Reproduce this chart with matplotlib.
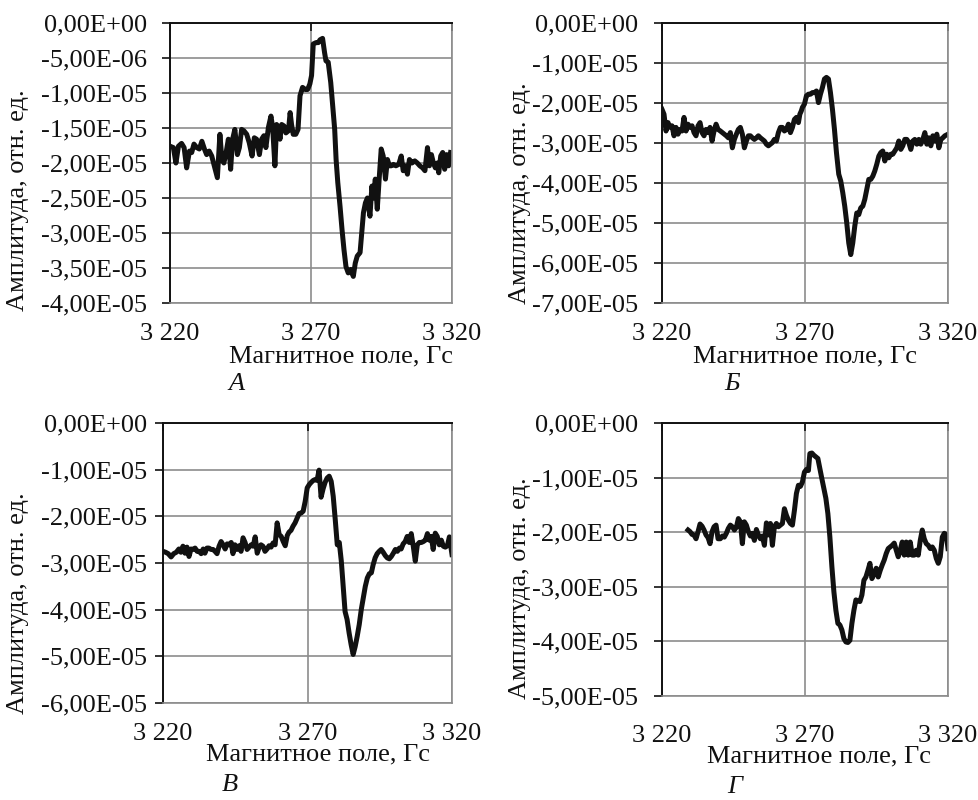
import numpy as np
import matplotlib
matplotlib.use("Agg")
import matplotlib.pyplot as plt
from matplotlib.ticker import FuncFormatter, MultipleLocator

plt.rcParams['font.family'] = ['Liberation Serif', 'DejaVu Serif']

field_a = [3220.0, 3221.2, 3222.1, 3223.0, 3224.1, 3225.0, 3225.9, 3226.9, 3227.7, 3228.5,
           3229.5, 3230.4, 3231.3, 3232.2, 3233.0, 3233.9, 3234.8, 3235.7, 3236.8, 3237.7,
           3238.4, 3239.1, 3239.9, 3240.7, 3241.5, 3242.2, 3243.0, 3243.9, 3244.6, 3245.4,
           3246.2, 3247.2, 3248.1, 3249.1, 3249.9, 3250.7, 3251.7, 3252.5, 3253.3, 3254.0,
           3254.9, 3255.8, 3256.4, 3257.2, 3257.8, 3258.4, 3259.0, 3259.6, 3260.4, 3261.1,
           3262.0, 3262.6, 3263.1, 3263.7, 3264.6, 3265.4, 3266.1, 3267.0, 3268.0, 3268.8,
           3269.6, 3270.2, 3270.8, 3271.8, 3272.6, 3273.2, 3274.1, 3274.8, 3275.3, 3276.1,
           3277.0, 3277.7, 3278.4, 3278.9, 3279.5, 3280.3, 3281.0, 3281.7, 3282.4, 3283.2,
           3284.1, 3285.0, 3285.7, 3286.4, 3287.4, 3288.0, 3288.6, 3289.3, 3290.0, 3290.9,
           3291.6, 3292.1, 3292.8, 3293.5, 3294.2, 3294.9, 3295.6, 3296.4, 3297.1, 3297.8,
           3298.5, 3299.2, 3300.1, 3301.1, 3302.0, 3302.7, 3303.4, 3304.2, 3304.9, 3305.8,
           3306.8, 3307.7, 3308.6, 3309.6, 3310.4, 3311.3, 3312.0, 3312.7, 3313.4, 3314.1,
           3314.8, 3315.3, 3316.0, 3316.7, 3317.4, 3318.1, 3318.8, 3319.5]
amp_a = [-1.76, -1.78, -2.00, -1.76, -1.72, -1.78, -2.07, -1.83, -1.85, -1.73,
         -1.78, -1.80, -1.69, -1.80, -1.88, -1.83, -1.90, -2.04, -2.21, -1.59,
         -1.95, -2.00, -1.85, -1.66, -2.09, -1.66, -1.52, -1.88, -1.78, -1.52,
         -1.54, -1.59, -1.71, -1.90, -1.64, -1.66, -1.88, -1.66, -1.61, -1.78,
         -1.49, -1.33, -1.49, -2.04, -1.45, -1.49, -1.66, -1.45, -1.47, -1.57,
         -1.54, -1.28, -1.45, -1.59, -1.59, -1.52, -1.04, -0.92, -0.95, -0.95,
         -0.87, -0.75, -0.30, -0.28, -0.28, -0.24, -0.22, -0.42, -0.54, -0.56,
         -0.85, -1.18, -1.52, -1.95, -2.28, -2.62, -2.95, -3.24, -3.48, -3.57,
         -3.52, -3.62, -3.43, -3.33, -3.28, -3.00, -2.71, -2.57, -2.50, -2.76,
         -2.33, -2.50, -2.23, -2.66, -2.21, -1.80, -1.90, -2.23, -1.95, -2.04,
         -2.04, -2.02, -2.04, -2.02, -1.90, -2.11, -2.04, -2.16, -1.95, -2.00,
         -1.97, -2.00, -2.04, -2.07, -2.11, -1.78, -2.04, -1.88, -2.00, -2.07,
         -2.00, -2.14, -1.90, -1.85, -2.09, -1.88, -2.04, -1.85]

field_b = [3220.0, 3220.7, 3221.4, 3222.1, 3222.8, 3223.5, 3224.2, 3224.9, 3225.6, 3226.3,
           3227.0, 3227.7, 3228.4, 3229.1, 3229.8, 3230.5, 3231.2, 3231.9, 3232.6, 3233.3,
           3234.0, 3234.7, 3235.4, 3236.1, 3236.8, 3237.5, 3238.2, 3238.9, 3239.6, 3240.4,
           3241.1, 3241.8, 3242.5, 3243.2, 3243.9, 3244.6, 3245.3, 3246.0, 3246.7, 3247.4,
           3248.1, 3248.8, 3249.5, 3250.2, 3250.9, 3251.6, 3252.3, 3253.0, 3253.7, 3254.4,
           3255.1, 3255.8, 3256.5, 3257.2, 3257.9, 3258.6, 3259.3, 3260.0, 3260.7, 3261.4,
           3262.1, 3262.8, 3263.5, 3264.2, 3264.9, 3265.6, 3266.3, 3267.0, 3267.7, 3268.2,
           3268.7, 3269.1, 3269.8, 3270.5, 3271.2, 3271.9, 3272.6, 3273.3, 3274.0, 3274.7,
           3275.4, 3276.1, 3276.8, 3277.5, 3278.2, 3278.9, 3279.6, 3280.3, 3281.0, 3281.8,
           3282.5, 3283.2, 3283.9, 3284.6, 3285.3, 3286.0, 3286.7, 3287.4, 3288.1, 3288.8,
           3289.5, 3290.2, 3290.9, 3291.6, 3292.3, 3293.0, 3293.7, 3294.4, 3295.1, 3295.8,
           3296.5, 3297.2, 3297.9, 3298.6, 3299.3, 3300.0, 3300.7, 3301.4, 3302.1, 3302.8,
           3303.5, 3304.2, 3304.9, 3305.6, 3306.3, 3307.0, 3307.7, 3308.4, 3309.1, 3309.8,
           3310.5, 3311.2, 3311.9, 3312.6, 3313.3, 3314.0, 3314.7, 3315.4, 3316.1, 3316.8,
           3317.5, 3318.2, 3318.9, 3320.0]
amp_b = [-2.16, -2.28, -2.70, -2.49, -2.61, -2.57, -2.82, -2.61, -2.78, -2.66,
         -2.70, -2.36, -2.70, -2.53, -2.61, -2.57, -2.74, -2.82, -2.57, -2.49,
         -2.74, -2.82, -2.66, -2.74, -2.61, -2.95, -2.70, -2.53, -2.66, -2.70,
         -2.74, -2.78, -2.82, -2.87, -2.74, -3.12, -2.91, -2.78, -2.66, -2.61,
         -2.78, -3.12, -2.95, -2.82, -2.82, -2.87, -2.91, -2.87, -2.82, -2.87,
         -2.91, -2.95, -3.03, -3.07, -3.03, -2.99, -2.91, -2.95, -2.74, -2.61,
         -2.61, -2.70, -2.66, -2.53, -2.74, -2.61, -2.41, -2.36, -2.49, -2.28,
         -2.20, -2.11, -2.03, -1.82, -1.78, -1.78, -1.74, -1.74, -1.70, -1.99,
         -1.78, -1.61, -1.40, -1.36, -1.40, -1.74, -2.16, -2.66, -3.24, -3.78,
         -3.95, -4.24, -4.58, -5.00, -5.50, -5.79, -5.50, -5.08, -4.75, -4.79,
         -4.62, -4.58, -4.41, -4.16, -3.91, -3.91, -3.83, -3.70, -3.53, -3.33,
         -3.24, -3.20, -3.45, -3.28, -3.37, -3.28, -3.28, -3.20, -3.12, -2.95,
         -3.16, -3.07, -2.91, -2.91, -2.99, -3.16, -2.95, -2.91, -3.03, -2.91,
         -3.03, -2.91, -2.74, -3.03, -2.87, -3.07, -2.82, -2.95, -2.78, -3.12,
         -2.91, -2.87, -2.82, -2.78]

field_c = [3220.0, 3220.9, 3221.8, 3222.8, 3223.7, 3224.6, 3225.5, 3226.2, 3226.9, 3227.6,
           3228.3, 3229.0, 3229.7, 3230.4, 3231.1, 3231.8, 3232.5, 3233.2, 3233.9, 3234.5,
           3235.2, 3235.9, 3236.6, 3237.3, 3238.0, 3238.7, 3239.4, 3240.1, 3240.8, 3241.5,
           3242.2, 3242.9, 3243.6, 3244.2, 3244.9, 3245.6, 3246.3, 3247.0, 3247.7, 3248.4,
           3249.1, 3249.8, 3250.5, 3251.2, 3251.9, 3252.6, 3253.3, 3253.9, 3254.6, 3255.3,
           3256.0, 3256.7, 3257.4, 3258.1, 3258.8, 3259.5, 3260.2, 3260.9, 3261.6, 3262.3,
           3263.0, 3263.6, 3264.3, 3265.0, 3265.7, 3266.4, 3267.1, 3267.8, 3268.5, 3269.2,
           3269.9, 3270.6, 3271.3, 3272.0, 3272.7, 3273.3, 3274.0, 3274.7, 3275.4, 3276.1,
           3276.8, 3277.5, 3278.2, 3278.9, 3279.6, 3280.3, 3281.0, 3281.7, 3282.4, 3283.0,
           3283.7, 3284.4, 3285.1, 3285.8, 3286.5, 3287.2, 3287.9, 3288.6, 3289.3, 3290.0,
           3290.7, 3291.4, 3292.1, 3292.7, 3293.4, 3294.1, 3294.8, 3295.5, 3296.2, 3296.9,
           3297.6, 3298.3, 3299.0, 3299.7, 3300.4, 3301.1, 3301.8, 3302.4, 3303.1, 3303.8,
           3304.5, 3305.2, 3305.9, 3306.6, 3307.3, 3308.0, 3308.7, 3309.4, 3310.1, 3310.8,
           3311.5, 3312.1, 3312.8, 3313.5, 3314.2, 3314.9, 3315.6, 3316.3, 3317.0, 3317.7,
           3318.4, 3319.1, 3320.0]
amp_c = [-2.75, -2.77, -2.80, -2.87, -2.80, -2.77, -2.70, -2.77, -2.64, -2.79,
         -2.66, -2.86, -2.70, -2.71, -2.68, -2.75, -2.75, -2.80, -2.70, -2.79,
         -2.68, -2.68, -2.71, -2.71, -2.75, -2.80, -2.64, -2.54, -2.61, -2.70,
         -2.59, -2.61, -2.56, -2.80, -2.61, -2.71, -2.63, -2.75, -2.46, -2.56,
         -2.71, -2.66, -2.61, -2.64, -2.44, -2.79, -2.66, -2.61, -2.64, -2.75,
         -2.70, -2.63, -2.66, -2.57, -2.61, -2.14, -2.39, -2.43, -2.54, -2.63,
         -2.41, -2.34, -2.30, -2.21, -2.14, -2.04, -1.94, -1.93, -1.89, -1.68,
         -1.39, -1.32, -1.27, -1.23, -1.21, -1.23, -1.01, -1.59, -1.41, -1.27,
         -1.18, -1.14, -1.25, -1.57, -2.07, -2.61, -2.56, -2.96, -3.54, -4.04,
         -4.21, -4.50, -4.75, -4.96, -4.79, -4.57, -4.32, -4.00, -3.75, -3.50,
         -3.32, -3.23, -3.21, -3.04, -2.89, -2.80, -2.75, -2.71, -2.77, -2.84,
         -2.89, -2.91, -2.86, -2.79, -2.71, -2.75, -2.68, -2.70, -2.59, -2.54,
         -2.43, -2.56, -2.37, -2.64, -2.96, -2.61, -2.56, -2.56, -2.54, -2.51,
         -2.37, -2.51, -2.43, -2.71, -2.36, -2.43, -2.61, -2.51, -2.64, -2.66,
         -2.63, -2.44, -2.82]

field_d = [3229.1, 3229.8, 3230.5, 3231.2, 3231.9, 3232.6, 3233.3, 3234.0, 3234.7, 3235.4,
           3236.1, 3236.8, 3237.5, 3238.2, 3238.9, 3239.6, 3240.4, 3241.1, 3241.8, 3242.5,
           3243.2, 3243.9, 3244.6, 3245.3, 3246.0, 3246.7, 3247.4, 3248.1, 3248.8, 3249.5,
           3250.2, 3250.9, 3251.6, 3252.3, 3253.0, 3253.7, 3254.4, 3255.1, 3255.8, 3256.5,
           3257.2, 3257.9, 3258.6, 3259.3, 3260.0, 3260.7, 3261.4, 3262.1, 3262.8, 3263.5,
           3264.2, 3264.9, 3265.6, 3266.3, 3267.0, 3267.7, 3268.4, 3269.1, 3269.8, 3270.5,
           3271.2, 3271.7, 3272.4, 3273.1, 3273.8, 3274.5, 3275.2, 3275.9, 3276.6, 3277.3,
           3278.0, 3278.7, 3279.4, 3280.1, 3280.8, 3281.5, 3282.2, 3282.9, 3283.6, 3284.3,
           3285.0, 3285.7, 3286.4, 3287.1, 3287.8, 3288.5, 3289.2, 3289.9, 3290.6, 3291.3,
           3292.0, 3292.7, 3293.4, 3294.2, 3294.9, 3295.6, 3296.3, 3297.0, 3297.7, 3298.4,
           3299.1, 3299.8, 3300.5, 3301.2, 3301.9, 3302.6, 3303.3, 3304.0, 3304.7, 3305.4,
           3306.1, 3306.8, 3307.5, 3308.2, 3308.9, 3309.6, 3310.3, 3311.0, 3311.7, 3312.4,
           3313.1, 3313.8, 3314.5, 3315.2, 3315.9, 3316.6, 3317.3, 3318.0, 3318.7, 3319.4,
           3320.0]
amp_d = [-1.96, -1.99, -2.04, -2.05, -2.12, -1.99, -1.85, -1.89, -1.96, -2.05,
         -2.10, -2.21, -1.99, -1.90, -1.87, -2.12, -2.12, -2.07, -2.09, -2.02,
         -1.93, -1.87, -1.90, -1.96, -1.91, -1.75, -1.81, -2.21, -1.81, -1.87,
         -1.99, -2.07, -2.02, -2.15, -1.95, -2.05, -2.12, -2.07, -2.24, -1.83,
         -2.05, -1.84, -2.24, -1.90, -1.84, -1.90, -1.87, -1.84, -1.57, -1.69,
         -1.78, -1.84, -1.87, -1.60, -1.29, -1.14, -1.16, -1.08, -0.90, -0.85,
         -0.87, -0.56, -0.55, -0.59, -0.62, -0.65, -0.84, -1.02, -1.20, -1.38,
         -1.66, -2.09, -2.63, -3.09, -3.43, -3.67, -3.70, -3.79, -3.95, -4.01,
         -4.02, -3.98, -3.67, -3.43, -3.24, -3.26, -3.27, -3.15, -2.88, -2.82,
         -2.70, -2.57, -2.85, -2.76, -2.66, -2.82, -2.70, -2.60, -2.51, -2.39,
         -2.30, -2.27, -2.24, -2.20, -2.33, -2.45, -2.33, -2.18, -2.42, -2.18,
         -2.42, -2.18, -2.42, -2.42, -2.33, -2.42, -2.15, -1.96, -2.12, -2.21,
         -2.24, -2.30, -2.27, -2.33, -2.48, -2.57, -2.45, -2.09, -2.02, -2.05,
         -2.30]

letters = ["А", "Б", "В", "Г"]
y_mins = [-4e-5, -7e-5, -6e-5, -5e-5]
y_steps = [5e-6, 1e-5, 1e-5, 1e-5]
x_ticks = [3220, 3270, 3320]

W, H = 979, 800
fig = plt.figure(figsize=(W / 100, H / 100), dpi=100)

# положение областей построения в пикселях: левый, правый, верх, низ
boxes = [(170, 452, 23, 303), (662, 948, 23, 303), (163, 452, 423, 703), (662, 948, 423, 696)]
ylab_right = [147, 638, 147, 638]
ylab_pos = [(18, 200), (520, 193), (18, 603), (520, 588)]
# базовые линии подписей (пиксели сверху)
tick_base = [340, 340, 740, 742]
xlab_pos = [(341, 362), (805, 362), (318, 760), (819, 762)]
letter_pos = [(237, 390), (732, 390), (230, 791), (735, 793)]

series = [(field_a, amp_a), (field_b, amp_b), (field_c, amp_c), (field_d, amp_d)]


def y_fmt(v, pos):
    if abs(v) < 1e-12:
        return "0,00E+00"
    return ("%.2E" % v).replace(".", ",")


def x_fmt(v, pos):
    return ("{:,}".format(int(round(v)))).replace(",", " ")


FS = 19
grid_c = "#8c8c8c"
for i in range(4):
    l, r, t, b = boxes[i]
    ax = fig.add_axes([l / W, 1 - b / H, (r - l) / W, (b - t) / H])
    xs, ys = series[i]
    ax.plot(xs, np.array(ys) * 1e-5, color="#111111", lw=3.6, solid_joinstyle="round")
    ax.set_xlim(3220, 3320)
    ax.set_ylim(y_mins[i], 0)
    ax.set_xticks(x_ticks)
    ax.yaxis.set_major_locator(MultipleLocator(y_steps[i]))
    ax.yaxis.set_major_formatter(FuncFormatter(y_fmt))
    ax.grid(True, color=grid_c, lw=1.2)
    ax.set_axisbelow(True)
    for s in ["right", "bottom"]:
        ax.spines[s].set_color(grid_c)
        ax.spines[s].set_linewidth(1.2)
    for s in ["left", "top"]:
        ax.spines[s].set_color("#111111")
        ax.spines[s].set_linewidth(1.4)
    gap = l - ylab_right[i] - 8
    ax.tick_params(axis="y", direction="out", length=5.8, width=1.2, pad=gap * 0.72,
                   labelsize=FS, colors="#111111")
    ax.tick_params(axis="x", top=True, bottom=False, labeltop=False, labelbottom=False,
                   direction="in", length=5.8, width=1.2, colors="#111111")
    # подписи по оси X ниже области построения
    for xv in x_ticks:
        xp = l + (xv - 3220) / 100 * (r - l)
        fig.text(xp / W, 1 - tick_base[i] / H, x_fmt(xv, None), ha="center", va="baseline",
                 fontsize=FS, color="#111111")
    fig.text(ylab_pos[i][0] / W, 1 - ylab_pos[i][1] / H, "Амплитуда, отн. ед.",
             rotation=90, ha="center", va="center", fontsize=FS, color="#111111")
    fig.text(xlab_pos[i][0] / W, 1 - xlab_pos[i][1] / H, "Магнитное поле, Гс",
             ha="center", va="baseline", fontsize=FS, color="#111111")
    fig.text(letter_pos[i][0] / W, 1 - letter_pos[i][1] / H, letters[i],
             ha="center", va="baseline", fontsize=FS, style="italic", color="#111111")

fig.savefig("out.png", dpi=100)
